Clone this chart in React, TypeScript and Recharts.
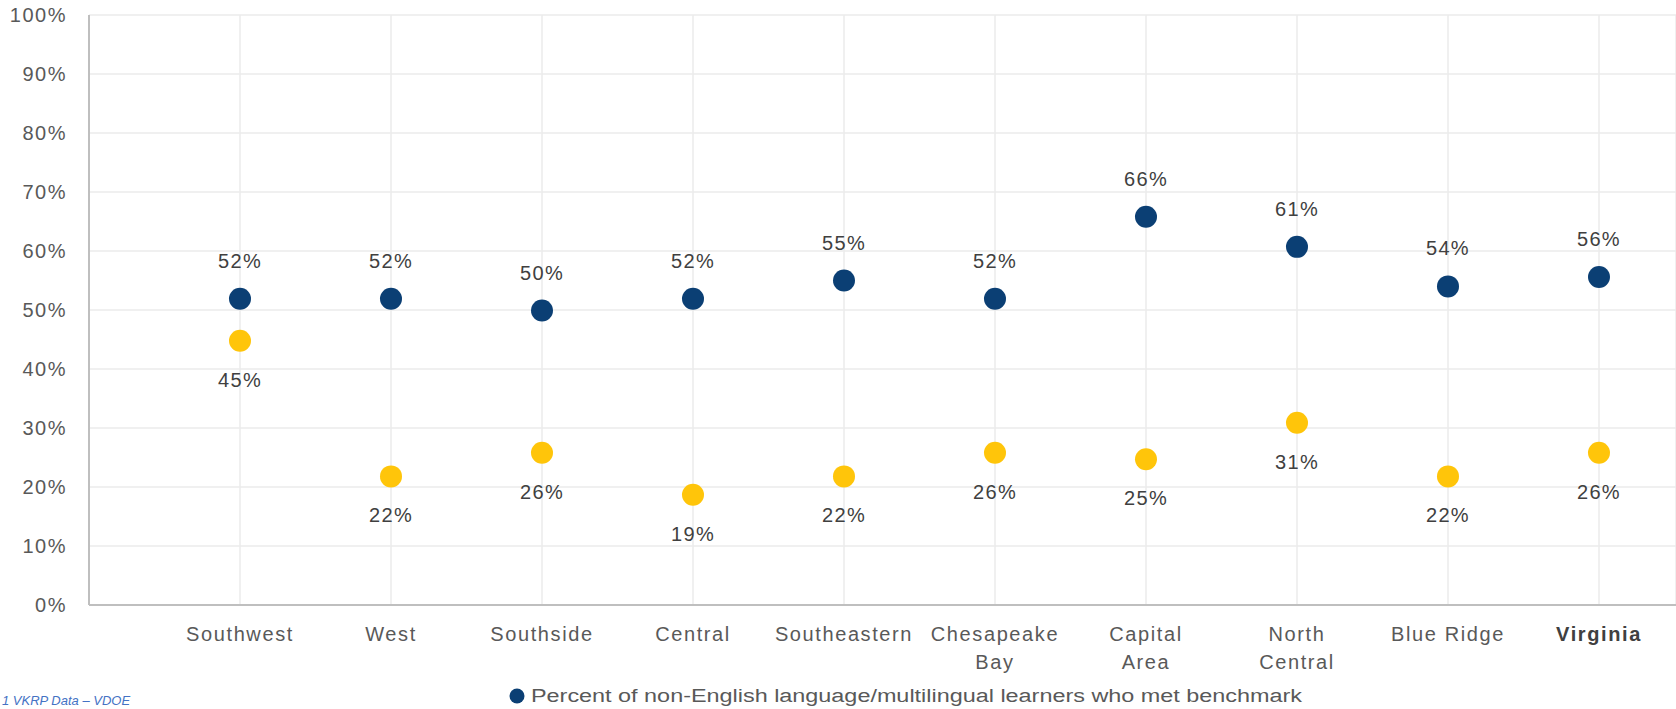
import { CartesianGrid, Scatter, ScatterChart, XAxis, YAxis } from "recharts";

const regions = [
	"Southwest",
	"West",
	"Southside",
	"Central",
	"Southeastern",
	"Chesapeake Bay",
	"Capital Area",
	"North Central",
	"Blue Ridge",
	"Virginia",
];
const metBenchmark = [51.9, 51.9, 49.9, 51.9, 55.0, 51.9, 65.8, 60.7, 54.0, 55.6];
const otherGroup = [44.8, 21.8, 25.8, 18.7, 21.8, 25.8, 24.7, 30.9, 21.8, 25.8];
const yTicks = [0, 10, 20, 30, 40, 50, 60, 70, 80, 90, 100];
const legendLabel = "Percent of non-English language/multilingual learners who met benchmark";
const sourceNote = "1 VKRP Data \u2013 VDOE";

const NAVY = "#0B3F74";
const GOLD = "#FFC50A";
const LABEL = "#404040";
const FONT = '"Liberation Sans", Arial, sans-serif';

const navyData = regions.map((r, i) => ({ x: i + 1, y: metBenchmark[i], region: r }));
const goldData = regions.map((r, i) => ({ x: i + 1, y: otherGroup[i], region: r }));

function dotWithLabel(color: string, above: boolean) {
	return (props: any) => {
		const { cx, cy, payload } = props;
		if (cx == null || cy == null) return null;
		return (
			<g>
				<circle cx={cx} cy={cy} r={11} fill={color} />
				<text
					x={cx}
					y={above ? cy - 38 : cy + 39}
					dy="0.35em"
					textAnchor="middle"
					fontSize={20}
					letterSpacing={1.3}
					fontFamily={FONT}
					fill={LABEL}
				>
					{Math.round(payload.y)}%
				</text>
			</g>
		);
	};
}

function RegionTick(props: any) {
	const { x, y, payload } = props;
	const name = regions[payload.value - 1];
	if (!name) return null;
	const lines = name.includes(" ") && name.length > 10 ? name.split(" ") : [name];
	const bold = name === "Virginia";
	return (
		<text
			x={x}
			y={y + 36}
			textAnchor="middle"
			fontSize={20}
			letterSpacing={1.6}
			fontFamily={FONT}
			fontWeight={bold ? 700 : 400}
			fill={bold ? "#404040" : "#595959"}
		>
			{lines.map((l, i) => (
				<tspan key={l} x={x} dy={i === 0 ? 0 : 28}>
					{l}
				</tspan>
			))}
		</text>
	);
}

export default function App() {
	return (
		<div
			style={{
				position: "absolute",
				left: 0,
				top: 0,
				width: 1676,
				height: 709,
				overflow: "hidden",
				background: "#fff",
			}}
		>
			<ScatterChart width={1676} height={709} margin={{ top: 15, right: 0, bottom: 0, left: 0 }}>
				<CartesianGrid stroke="#EBEBEB" strokeWidth={1.5} />
				<XAxis
					type="number"
					dataKey="x"
					domain={[0, 10.51]}
					ticks={[1, 2, 3, 4, 5, 6, 7, 8, 9, 10]}
					allowDataOverflow
					height={104}
					tickLine={false}
					tickSize={0}
					tickMargin={0}
					axisLine={{ stroke: "#BFBFBF", strokeWidth: 2 }}
					tick={<RegionTick />}
					interval={0}
				/>
				<YAxis
					type="number"
					dataKey="y"
					domain={[0, 100]}
					ticks={yTicks}
					width={89}
					tickLine={false}
					tickSize={0}
					tickMargin={22}
					axisLine={{ stroke: "#BFBFBF", strokeWidth: 2 }}
					tickFormatter={(v: number) => `${v}%`}
					tick={{ fill: "#595959", fontSize: 20, fontFamily: FONT, letterSpacing: 1.5 }}
					interval={0}
				/>
				<Scatter data={goldData} fill={GOLD} shape={dotWithLabel(GOLD, false)} isAnimationActive={false} />
				<Scatter data={navyData} fill={NAVY} shape={dotWithLabel(NAVY, true)} isAnimationActive={false} />
			</ScatterChart>
			<svg width={1676} height={709} style={{ position: "absolute", left: 0, top: 0, pointerEvents: "none" }}>
				<circle cx={517} cy={696} r={7.5} fill={NAVY} />
				<text
					x={531}
					y={696}
					dy="0.36em"
					fontSize={18}
					fontFamily={FONT}
					fill="#595959"
					textLength={771}
					lengthAdjust="spacingAndGlyphs"
				>
					{legendLabel}
				</text>
				<text x={2} y={705} fontSize={13} fontStyle="italic" fontFamily={FONT} fill="#4472C4">
					{sourceNote}
				</text>
			</svg>
		</div>
	);
}
